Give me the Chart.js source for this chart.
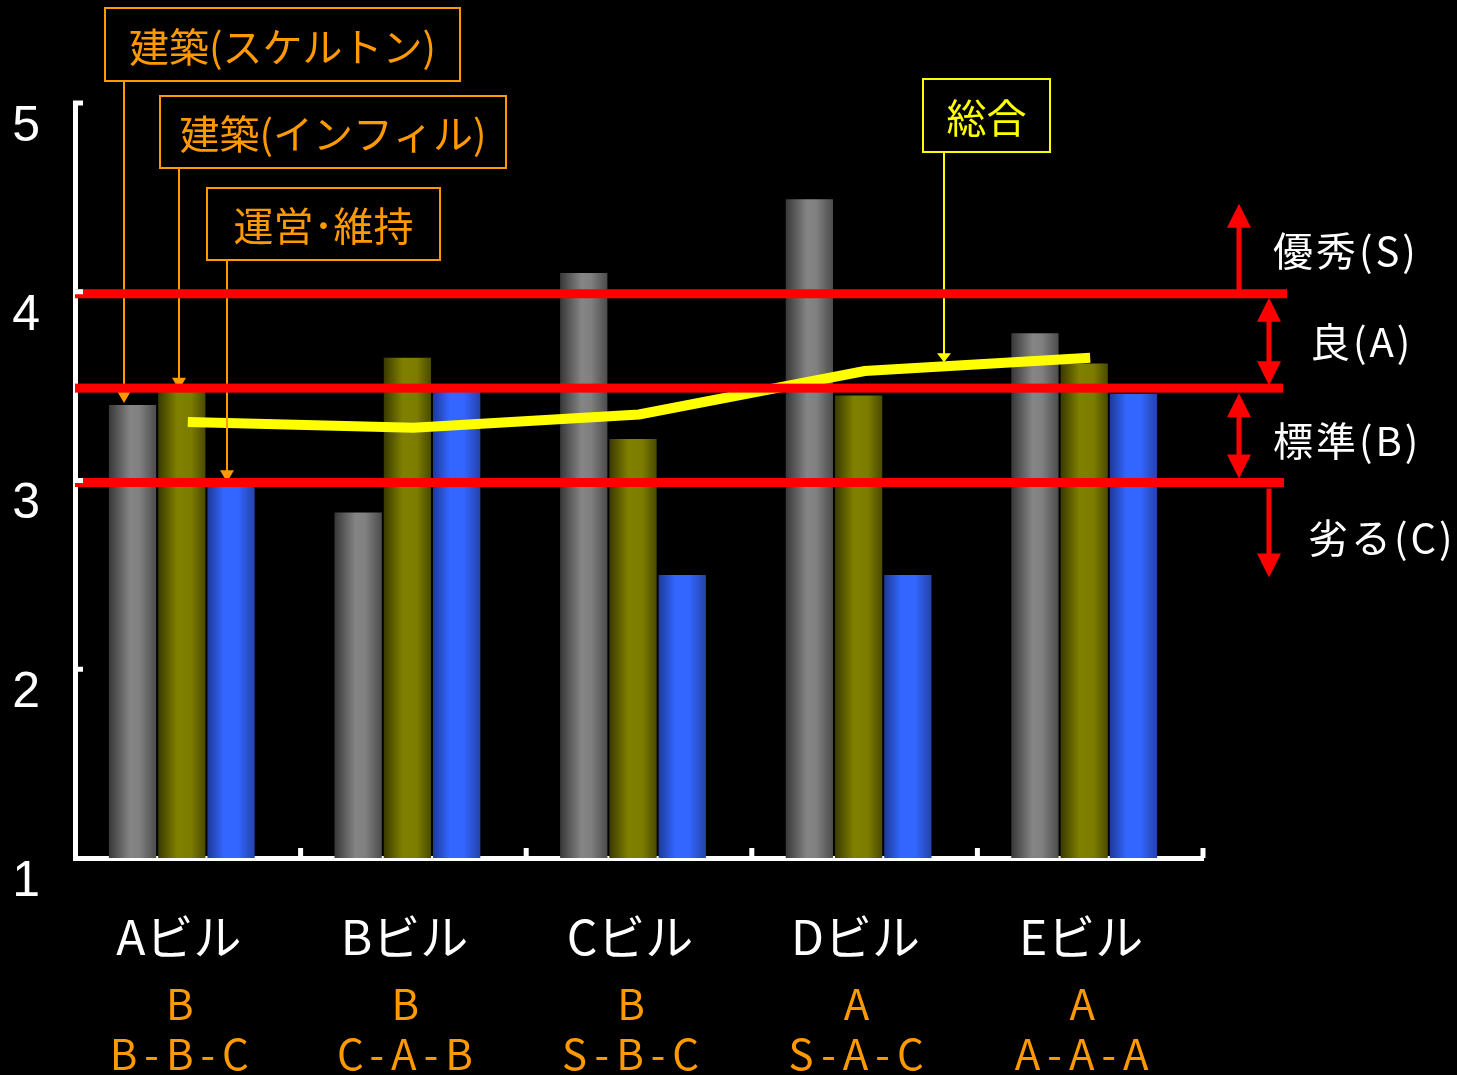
<!DOCTYPE html>
<html><head><meta charset="utf-8">
<script src="https://cdn.jsdelivr.net/npm/chart.js@4.4.1/dist/chart.umd.min.js"></script>
<style>html,body{margin:0;padding:0;background:#000;overflow:hidden}#wrap{width:1457px;height:1075px;position:relative;background:#000}</style>
</head><body><div id="wrap"><canvas id="c"></canvas></div>
<script>
const categories = ['Aビル','Bビル','Cビル','Dビル','Eビル'];
const skeleton  = [3.40, 2.83, 4.10, 4.49, 3.78];
const infill    = [3.47, 3.65, 3.22, 3.45, 3.62];
const operation = [2.98, 3.47, 2.50, 2.50, 3.46];
const overall   = [3.31, 3.28, 3.35, 3.58, 3.65];
const overallGrades = ['B','B','B','A','A'];
const partGrades = ['B-B-C','C-A-B','S-B-C','S-A-C','A-A-A'];
const yTicks = [1,2,3,4,5];
const gradeLines = [4, 3.5, 3];
const gradeLabels = ['優秀(S)','良(A)','標準(B)','劣る(C)'];
const seriesNames = ['建築(スケルトン)','建築(インフィル)','運営･維持','総合'];

const JP = '"Noto Sans CJK JP","Noto Sans",sans-serif';
const CAT_PCT = 0.655, BAR_PCT = 0.96, BAR_SHIFT = -6;

function cylinder(stops, fallback){
  return (c) => {
    const chart = c.chart, xs = chart.scales && chart.scales.x;
    if (!xs || c.type !== 'data' || !isFinite(xs.left) || xs.right <= xs.left) return fallback;
    const catW = (xs.right - xs.left) / categories.length;
    const slot = catW * CAT_PCT / 3;
    const cx = xs.getPixelForValue(c.dataIndex) + (c.datasetIndex - 2) * slot;
    const w = slot * BAR_PCT;
    const g = chart.ctx.createLinearGradient(cx - w/2, 0, cx + w/2, 0);
    stops.forEach(s => g.addColorStop(s[0], s[1]));
    return g;
  };
}

function arrowHead(ctx, x, y, dir, w, h, color){
  ctx.fillStyle = color;
  ctx.beginPath();
  ctx.moveTo(x, y);
  ctx.lineTo(x - w/2, y - dir*h);
  ctx.lineTo(x + w/2, y - dir*h);
  ctx.closePath();
  ctx.fill();
}

const shiftBars = {
  id: 'shiftBars',
  beforeDatasetDraw(chart, args){
    if (args.meta.type === 'bar') { chart.ctx.save(); chart.ctx.translate(BAR_SHIFT, 0); }
  },
  afterDatasetDraw(chart, args){
    if (args.meta.type === 'bar') chart.ctx.restore();
  }
};

const deco = {
  id: 'deco',
  afterDatasetsDraw(chart){
    const {ctx, scales:{x, y}} = chart;
    ctx.save();
    const orange = '#FF9900';
    const arrows = [
      {x: 124, y0: 81,  v: skeleton[0]},
      {x: 179, y0: 168, v: infill[0]},
      {x: 227, y0: 260, v: operation[0]},
    ];
    arrows.forEach(a => {
      const tip = y.getPixelForValue(a.v) - 2;
      ctx.strokeStyle = orange; ctx.lineWidth = 2;
      ctx.beginPath(); ctx.moveTo(a.x, a.y0); ctx.lineTo(a.x, tip - 10); ctx.stroke();
      arrowHead(ctx, a.x, tip, 1, 14, 12, orange);
    });
    {
      const px = 944;
      const xd = x.getPixelForValue(3), xe = x.getPixelForValue(4);
      const f = (px - xd) / (xe - xd);
      const tip = y.getPixelForValue(overall[3] + f*(overall[4]-overall[3])) - 4;
      ctx.strokeStyle = '#FFFF00'; ctx.lineWidth = 2;
      ctx.beginPath(); ctx.moveTo(px, 152); ctx.lineTo(px, tip - 8); ctx.stroke();
      arrowHead(ctx, px, tip, 1, 14, 9, '#FFFF00');
    }
    ctx.fillStyle = '#FF0000';
    const ends = [1287, 1283, 1284];
    gradeLines.forEach((v, i) => {
      const py = y.getPixelForValue(v) + 2;
      ctx.fillRect(x.left, py - 4.5, ends[i] - x.left, 9);
    });
    const y4 = y.getPixelForValue(4) + 2, y35 = y.getPixelForValue(3.5) + 2, y3 = y.getPixelForValue(3) + 1;
    ctx.strokeStyle = '#FF0000'; ctx.lineWidth = 5;
    const vline = (px, a, b) => { ctx.beginPath(); ctx.moveTo(px, a); ctx.lineTo(px, b); ctx.stroke(); };
    vline(1239, y4, y4 - 70); arrowHead(ctx, 1239, y4 - 90, -1, 24, 24, '#FF0000');
    vline(1269, y4 + 25, y35 - 25);
    arrowHead(ctx, 1269, y4 + 4, -1, 24, 24, '#FF0000');
    arrowHead(ctx, 1269, y35 - 3, 1, 24, 24, '#FF0000');
    vline(1239, y35 + 25, y3 - 25);
    arrowHead(ctx, 1239, y35 + 5, -1, 24, 24, '#FF0000');
    arrowHead(ctx, 1239, y3 - 3, 1, 24, 24, '#FF0000');
    vline(1269, y3 + 7, y3 + 75); arrowHead(ctx, 1269, y3 + 96, 1, 24, 24, '#FF0000');

    ctx.fillStyle = '#FFFFFF';
    ctx.font = '40px ' + JP;
    ctx.textAlign = 'left'; ctx.textBaseline = 'middle';
    ctx.letterSpacing = '3px';
    ctx.fillText(gradeLabels[0], 1273, y4 - 43);
    ctx.fillText(gradeLabels[1], 1310, (y4 + y35)/2 + 1);
    ctx.fillText(gradeLabels[2], 1273, (y35 + y3)/2 + 6);
    ctx.fillText(gradeLabels[3], 1308, y3 + 56);
    ctx.letterSpacing = '0px';

    ctx.fillStyle = '#FFFFFF';
    yTicks.forEach(v => { if (v > 1) { const py = y.getPixelForValue(v); ctx.fillRect(x.left - 2, py - 2.5, 10, 5); } });
    for (let i = 1; i <= categories.length; i++) {
      const px = x.left + i * (x.right - x.left) / categories.length;
      ctx.fillRect(px - 2.5, y.bottom - 10, 5, 10);
    }

    const boxes = [
      {t: seriesNames[0], x: 105, y: 8,  w: 355, h: 73, c: orange},
      {t: seriesNames[1], x: 160, y: 96, w: 346, h: 72, c: orange},
      {t: seriesNames[2], x: 207, y: 188, w: 233, h: 72, c: orange},
      {t: seriesNames[3], x: 923, y: 79, w: 127, h: 73, c: '#FFFF00'},
    ];
    ctx.font = '40px ' + JP;
    ctx.textAlign = 'center'; ctx.textBaseline = 'middle';
    boxes.forEach(b => {
      ctx.fillStyle = '#000'; ctx.fillRect(b.x, b.y, b.w, b.h);
      ctx.strokeStyle = b.c; ctx.lineWidth = 2; ctx.strokeRect(b.x, b.y, b.w, b.h);
      ctx.fillStyle = b.c; ctx.fillText(b.t, b.x + b.w/2, b.y + b.h/2 + 2);
    });

    ctx.fillStyle = orange;
    ctx.font = '42px ' + JP;
    ctx.textAlign = 'center'; ctx.textBaseline = 'middle';
    categories.forEach((c, i) => {
      const px = x.getPixelForValue(i) - 8;
      ctx.letterSpacing = '0px';
      ctx.fillText(overallGrades[i], px, 1004);
      ctx.letterSpacing = '7px';
      ctx.fillText(partGrades[i], px + 3, 1054);
    });
    ctx.letterSpacing = '0px';
    ctx.restore();
  }
};

const barCommon = {type: 'bar', barPercentage: BAR_PCT, categoryPercentage: CAT_PCT, borderWidth: 0, order: 2};

new Chart(document.getElementById('c'), {
  data: {
    labels: categories,
    datasets: [
      {type: 'line', label: seriesNames[3], data: overall, borderColor: '#FFFF00', borderWidth: 10,
       pointRadius: 0, tension: 0, fill: false, order: 1, borderCapStyle: 'butt'},
      Object.assign({label: seriesNames[0], data: skeleton,
        backgroundColor: cylinder([[0,'#383838'],[0.45,'#858585'],[0.65,'#808080'],[1,'#4c4c4c']], '#808080')}, barCommon),
      Object.assign({label: seriesNames[1], data: infill,
        backgroundColor: cylinder([[0,'#3a3a00'],[0.4,'#808000'],[0.7,'#7c7c00'],[1,'#4a4a00']], '#808000')}, barCommon),
      Object.assign({label: seriesNames[2], data: operation,
        backgroundColor: cylinder([[0,'#1e3a98'],[0.35,'#3366ff'],[0.65,'#3366ff'],[1,'#2442a8']], '#3366ff')}, barCommon),
    ]
  },
  options: {
    responsive: true, maintainAspectRatio: false, animation: false,
    layout: {padding: {top: 103, right: 254, left: 0, bottom: 0}},
    plugins: {legend: {display: false}, tooltip: {enabled: false}},
    scales: {
      x: {
        grid: {display: false},
        border: {display: true, color: '#FFFFFF', width: 5},
        ticks: {color: '#FFFFFF', font: {family: JP, size: 48}, padding: 42, labelOffset: -9, maxRotation: 0, autoSkip: false},
        afterFit: s => { s.height = 217; }
      },
      y: {
        min: 1, max: 5,
        grid: {display: false},
        border: {display: true, color: '#FFFFFF', width: 5},
        ticks: {stepSize: 1, color: '#FFFFFF', font: {family: '"Liberation Sans", Arial, sans-serif', size: 50},
                padding: 27, labelOffset: 24, callback: v => yTicks.includes(v) ? String(v) : ''},
        afterFit: s => { s.width = 75; }
      }
    }
  },
  plugins: [shiftBars, deco]
});
</script>
</body></html>
